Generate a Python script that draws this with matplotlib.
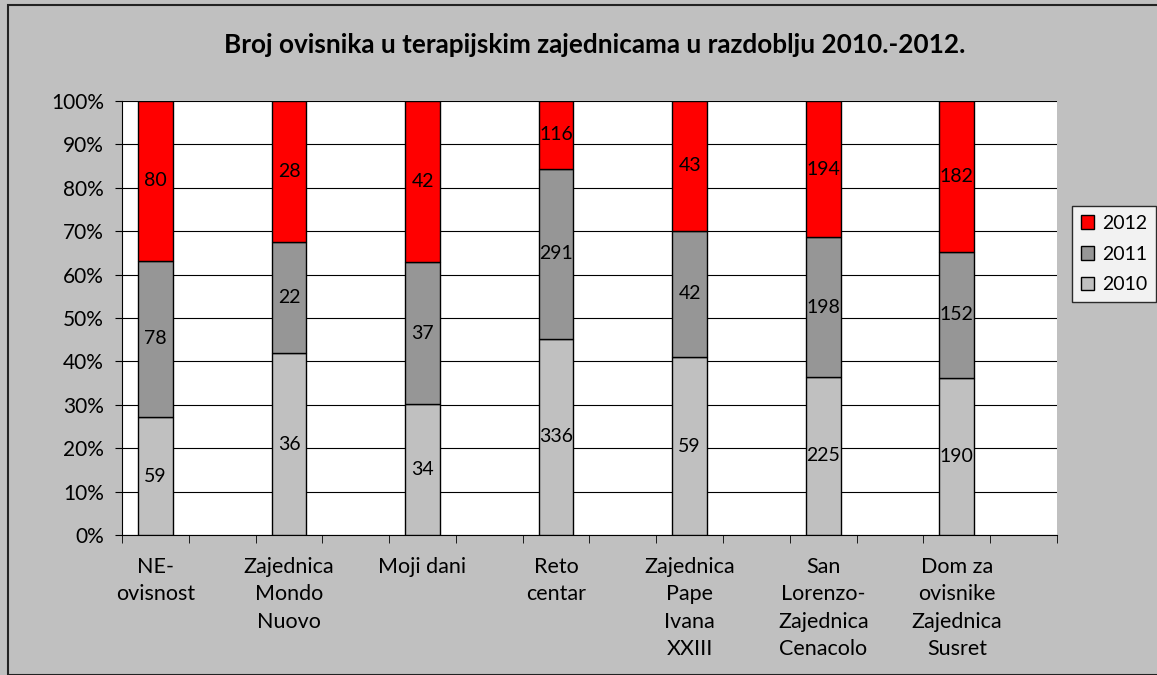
import numpy as np
import matplotlib.pyplot as plt
from matplotlib.patches import Rectangle

plt.rcParams['font.family'] = ['Lato', 'DejaVu Sans']

kategorije = ["NE-\novisnost", "Zajednica\nMondo\nNuovo", "Moji dani", "Reto\ncentar",
              "Zajednica\nPape\nIvana\nXXIII", "San\nLorenzo-\nZajednica\nCenacolo",
              "Dom za\novisnike\nZajednica\nSusret"]
god_2010 = [59, 36, 34, 336, 59, 225, 190]
god_2011 = [78, 22, 37, 291, 42, 198, 152]
god_2012 = [80, 28, 42, 116, 43, 194, 182]

boje = {"2010": "#C0C0C0", "2011": "#969696", "2012": "#FF0000"}

fig = plt.figure(figsize=(11.57, 6.75), dpi=100)
fig.patch.set_facecolor("#C0C0C0")
fig.patches.append(Rectangle((8 / 1157, 0.0), 1.2, 1 - 5 / 675, transform=fig.transFigure,
                             fill=False, edgecolor="#222222", linewidth=1.5))

ax = fig.add_axes([122 / 1157, 140 / 675, 935 / 1157, 434 / 675])
ax.set_facecolor("white")

x = np.arange(len(kategorije)) * 2
a = np.array(god_2010, float)
b = np.array(god_2011, float)
c = np.array(god_2012, float)
ukupno = a + b + c
pa, pb, pc = a / ukupno * 100, b / ukupno * 100, c / ukupno * 100

sirina = 0.52
ax.bar(x, pa, sirina, color=boje["2010"], edgecolor="black", linewidth=1, label="2010", zorder=3)
ax.bar(x, pb, sirina, bottom=pa, color=boje["2011"], edgecolor="black", linewidth=1, label="2011", zorder=3)
ax.bar(x, pc, sirina, bottom=pa + pb, color=boje["2012"], edgecolor="black", linewidth=1, label="2012", zorder=3)

for i in range(len(x)):
    ax.text(x[i], pa[i] / 2, str(god_2010[i]), ha="center", va="center", fontsize=14, zorder=4)
    ax.text(x[i], pa[i] + pb[i] / 2, str(god_2011[i]), ha="center", va="center", fontsize=14, zorder=4)
    ax.text(x[i], pa[i] + pb[i] + pc[i] / 2, str(god_2012[i]), ha="center", va="center", fontsize=14, zorder=4)

ax.set_xlim(-0.5, 2 * len(kategorije) - 0.5)
ax.set_ylim(0, 100)
ax.set_yticks(np.arange(0, 101, 10))
ax.set_yticklabels([f"{v}%" for v in range(0, 101, 10)], fontsize=15)
ax.yaxis.grid(True, color="black", linewidth=0.8, zorder=0)
ax.tick_params(axis="y", length=5, direction="out", pad=8)

ax.set_xticks(x)
ax.set_xticklabels(kategorije, fontsize=15.5, linespacing=1.45, va="top")
ax.tick_params(axis="x", length=0, pad=16)
ax.set_xticks(np.arange(-0.5, 2 * len(kategorije), 1), minor=True)
ax.tick_params(axis="x", which="minor", length=6, direction="out")

for s in ["top", "right"]:
    ax.spines[s].set_visible(False)
ax.spines["left"].set_color("black")
ax.spines["bottom"].set_color("black")

fig.text(595 / 1157, 1 - 45 / 675, "Broj ovisnika u terapijskim zajednicama u razdoblju 2010.-2012.",
         ha="center", va="center", fontsize=18.8, fontweight="bold")

h, l = ax.get_legend_handles_labels()
leg = fig.legend(h[::-1], l[::-1], loc="center left", bbox_to_anchor=(1072 / 1157, 1 - 254 / 675),
                 fontsize=14, frameon=True, fancybox=False, edgecolor="black",
                 handlelength=0.7, handleheight=0.7, handletextpad=0.4, labelspacing=0.7,
                 borderpad=0.45, borderaxespad=0)
leg.get_frame().set_linewidth(1)

fig.savefig("out.png", dpi=100, facecolor=fig.get_facecolor())
